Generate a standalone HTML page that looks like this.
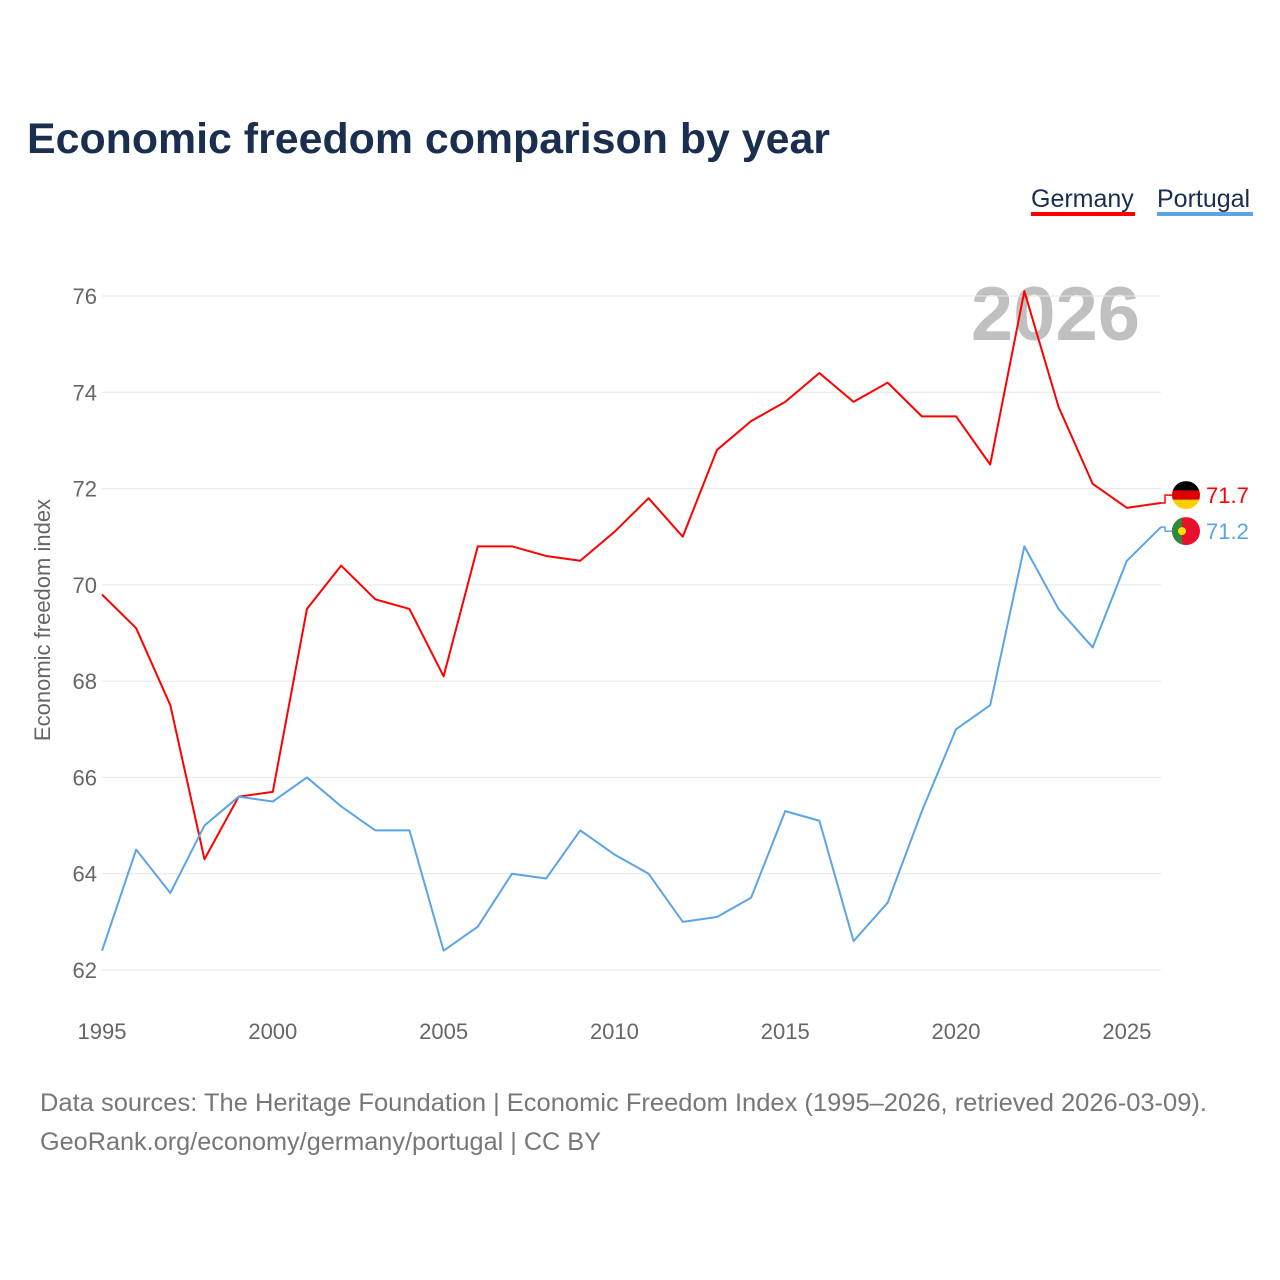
<!DOCTYPE html>
<html><head><meta charset="utf-8"><style>
body{margin:0;background:#fff;font-family:"Liberation Sans",sans-serif;}
</style></head><body>
<svg id="chart" width="1280" height="1280" xmlns="http://www.w3.org/2000/svg" style="display:block">
<text x="27" y="153" font-size="43" font-weight="bold" fill="#1a2e4f" textLength="803" lengthAdjust="spacingAndGlyphs">Economic freedom comparison by year</text>
<g>
<text x="1031" y="207" font-size="25" fill="#1a2e4f">Germany</text>
<rect x="1031" y="212" width="104" height="4" fill="#ff0000"/></g>
<g>
<text x="1157" y="207" font-size="25" fill="#1a2e4f">Portugal</text>
<rect x="1157" y="212" width="96" height="4" fill="#5ba4e6"/></g>
<text x="1140" y="340" font-size="76" font-weight="bold" fill="#c0c0c0" text-anchor="end">2026</text>
<text transform="translate(50,620) rotate(-90)" font-size="22" fill="#666" text-anchor="middle">Economic freedom index</text>
<g id="grid"></g><g id="lines"></g>
<text x="40" y="1111" font-size="25" fill="#777" textLength="1167" lengthAdjust="spacingAndGlyphs">Data sources: The Heritage Foundation | Economic Freedom Index (1995–2026, retrieved 2026-03-09).</text>
<text x="40" y="1150" font-size="25" fill="#777" textLength="561" lengthAdjust="spacingAndGlyphs">GeoRank.org/economy/germany/portugal | CC BY</text>
</svg>
<script>
const years=[1995,1996,1997,1998,1999,2000,2001,2002,2003,2004,2005,2006,2007,2008,2009,2010,2011,2012,2013,2014,2015,2016,2017,2018,2019,2020,2021,2022,2023,2024,2025,2026];
const germany=[69.8,69.1,67.5,64.3,65.6,65.7,69.5,70.4,69.7,69.5,68.1,70.8,70.8,70.6,70.5,71.1,71.8,71.0,72.8,73.4,73.8,74.4,73.8,74.2,73.5,73.5,72.5,76.1,73.7,72.1,71.6,71.7];
const portugal=[62.4,64.5,63.6,65.0,65.6,65.5,66.0,65.4,64.9,64.9,62.4,62.9,64.0,63.9,64.9,64.4,64.0,63.0,63.1,63.5,65.3,65.1,62.6,63.4,65.3,67.0,67.5,70.8,69.5,68.7,70.5,71.2];
const yTicks=[62,64,66,68,70,72,74,76];
const xTicks=[1995,2000,2005,2010,2015,2020,2025];
const NS="http://www.w3.org/2000/svg";
const x=v=>102+(v-1995)*(1161-102)/31;
const y=v=>970-(v-62)*(970-296)/14;
const grid=document.getElementById('grid'),lines=document.getElementById('lines');
function mk(t,a,p){const e=document.createElementNS(NS,t);for(const k in a)e.setAttribute(k,a[k]);p.appendChild(e);return e;}
yTicks.forEach(v=>{
 const l=mk('line',{x1:102,x2:1161,y1:y(v),y2:y(v),stroke:'#e6e6e6','stroke-width':1},grid);
 
 
 const t=mk('text',{x:97,y:y(v)+8,'font-size':22,fill:'#666','text-anchor':'end'},grid);t.textContent=v;
 
 
});
xTicks.forEach(v=>{
 const t=mk('text',{x:x(v),y:1039,'font-size':22,fill:'#666','text-anchor':'middle'},grid);t.textContent=v;
 
 
});
function series(d,c,name){
 const p=mk('polyline',{points:d.map((v,i)=>x(years[i])+','+y(v)).join(' '),fill:'none',stroke:c,'stroke-width':2,'stroke-linejoin':'round'},lines);
 
 
}
series(germany,'#ff0000','germany');series(portugal,'#5ba4e6','portugal');
const gl=germany[germany.length-1],pl=portugal[portugal.length-1];
const gy=Math.min(y(gl),y(pl)-34)+2,py=gy+36;
const fg=document.createElementNS(NS,'g');lines.appendChild(fg);


mk('polyline',{points:`${x(2026)},${y(gl)} 1165,${y(gl)} 1165,${gy} 1172,${gy}`,fill:'none',stroke:'#ff0000','stroke-width':1.5},fg);
mk('clipPath',{id:'cg'},fg);mk('circle',{cx:1186,cy:gy,r:14},document.getElementById('cg'));
const cg=mk('g',{'clip-path':'url(#cg)'},fg);
mk('rect',{x:1172,y:gy-14,width:28,height:10,fill:'#000'},cg);
mk('rect',{x:1172,y:gy-4.7,width:28,height:9.4,fill:'#dd0000'},cg);
mk('rect',{x:1172,y:gy+4.7,width:28,height:10,fill:'#ffce00'},cg);
const tg=mk('text',{x:1206,y:gy+8,'font-size':22,fill:'#ff0000'},fg);tg.textContent=gl.toFixed(1);
const fp=document.createElementNS(NS,'g');lines.appendChild(fp);


mk('polyline',{points:`${x(2026)},${y(pl)} 1165,${y(pl)} 1165,${py} 1172,${py}`,fill:'none',stroke:'#5ba4e6','stroke-width':1.5},fp);
mk('clipPath',{id:'cp'},fp);mk('circle',{cx:1186,cy:py,r:14},document.getElementById('cp'));
const cp=mk('g',{'clip-path':'url(#cp)'},fp);
mk('rect',{x:1172,y:py-14,width:28,height:28,fill:'#e8112d'},cp);
mk('rect',{x:1172,y:py-14,width:10,height:28,fill:'#2d8a3a'},cp);
mk('circle',{cx:1182,cy:py,r:4,fill:'#ffe000'},cp);
const tp=mk('text',{x:1206,y:py+8,'font-size':22,fill:'#5ba4e6'},fp);tp.textContent=pl.toFixed(1);
</script>
</body></html>
